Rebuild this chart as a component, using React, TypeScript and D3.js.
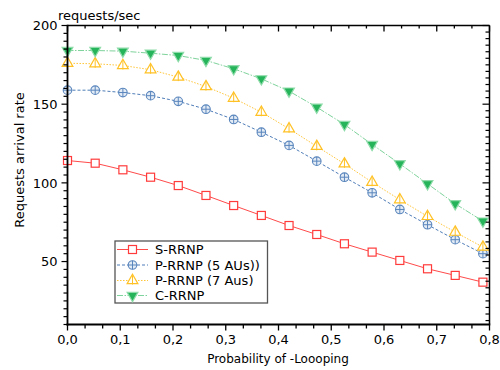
import React from "react";
import * as d3 from "d3";

const xValues = [0, 0.0525, 0.105, 0.1575, 0.21, 0.2625, 0.315, 0.3675, 0.42, 0.4725, 0.525, 0.5775, 0.63, 0.6825, 0.735, 0.7875];
const sRRNP = [114.2, 112.5, 108.3, 103.6, 98.3, 92.0, 85.6, 79.3, 72.9, 67.2, 61.3, 56.0, 50.7, 45.4, 41.2, 36.9];
const pRRNP5 = [158.9, 158.9, 157.4, 155.4, 151.8, 146.8, 140.3, 132.2, 123.8, 113.8, 103.6, 93.7, 83.1, 73.4, 63.9, 55.0];
const pRRNP7 = [176.0, 175.7, 174.6, 171.9, 167.2, 161.2, 153.8, 144.9, 134.4, 123.2, 112.1, 100.4, 89.3, 78.7, 68.7, 59.2];
const cRRNP = [184.1, 184.1, 183.7, 182.4, 180.9, 177.8, 172.5, 166.1, 158.3, 148.1, 137.1, 124.4, 112.1, 99.4, 86.7, 75.7];
const seriesNames = ["S-RRNP", "P-RRNP (5 AUs))", "P-RRNP (7 Aus)", "C-RRNP"];
const xTickValues = [0, 0.1, 0.2, 0.3, 0.4, 0.5, 0.6, 0.7, 0.8];
const yTickValues = [50, 100, 150, 200];

const FONT = "DejaVu Sans, Verdana, sans-serif";
const L = 67.5, R = 489.5, T = 25.5, B = 324.5;

type Style = { color: string; dash: string; marker: string; lineColor: string };
const styles: Style[] = [
  { color: "#ff3b3b", lineColor: "#ff4a4a", dash: "", marker: "square" },
  { color: "#5a86bd", lineColor: "#4f7db8", dash: "3,2", marker: "circlecross" },
  { color: "#ffc125", lineColor: "#ffc63a", dash: "1.5,1.5", marker: "triup" },
  { color: "#26b45a", lineColor: "#7fd39c", dash: "6,1.5,1.5,1.5", marker: "tridown" },
];

function Marker({ kind, x, y, st }: { kind: string; x: number; y: number; st: Style }) {
  if (kind === "square") {
    return <rect x={x - 4} y={y - 4} width={8} height={8} fill="#fff" stroke={st.color} strokeWidth={1.2} />;
  }
  if (kind === "circlecross") {
    return (
      <g>
        <circle cx={x} cy={y} r={4.3} fill="#e3ebf5" stroke={st.color} strokeWidth={1.1} />
        <line x1={x - 4.3} x2={x + 4.3} y1={y} y2={y} stroke={st.color} strokeWidth={1} />
        <line x1={x} x2={x} y1={y - 4.3} y2={y + 4.3} stroke={st.color} strokeWidth={1} />
      </g>
    );
  }
  if (kind === "triup") {
    const p = d3.symbol().type(d3.symbolTriangle).size(50)() as string;
    return (
      <g transform={`translate(${x},${y})`}>
        <path d={p} fill="#fff" stroke={st.color} strokeWidth={1.2} />
        <line x1={0} x2={0} y1={-5} y2={4} stroke={st.color} strokeWidth={1} />
      </g>
    );
  }
  const p = d3.symbol().type(d3.symbolTriangle).size(50)() as string;
  return (
    <g transform={`translate(${x},${y}) rotate(180)`}>
      <path d={p} fill={st.color} stroke="#8fdcaa" strokeWidth={1.2} />
    </g>
  );
}

export default function App() {
  const x = d3.scaleLinear().domain([0, 0.8]).range([L, R]);
  const y = d3.scaleLinear().domain([10, 200]).range([B, T]);
  const all = [sRRNP, pRRNP5, pRRNP7, cRRNP];
  const line = d3
    .line<number>()
    .x((_, i) => x(xValues[i]))
    .y((d) => y(d));

  const xMinor = d3.range(0, 0.8001, 0.1 / 3);
  const yMinorLeft = d3.range(10, 200.001, 5);
  const yMinorRight = d3.range(200, 9.99, -50 / 12);
  const fmt = (v: number) => v.toFixed(1).replace(".", ",");

  const legX = 115, legY = 241, legW = 152.5, legH = 62;
  const legRows = [249.5, 265, 280.5, 295.5];

  return (
    <svg width={500} height={370} style={{ position: "absolute", left: 0, top: 0, background: "#fff" }} fontFamily={FONT}>
      <rect x={0} y={0} width={500} height={370} fill="#fff" />
      {/* series lines */}
      {all.map((s, i) => (
        <path key={"l" + i} d={line(s) as string} fill="none" stroke={styles[i].lineColor} strokeWidth={1} strokeDasharray={styles[i].dash || undefined} />
      ))}
      {all.map((s, i) => (
        <g key={"m" + i}>
          {s.map((v, j) => (
            <Marker key={j} kind={styles[i].marker} x={x(xValues[j])} y={y(v)} st={styles[i]} />
          ))}
        </g>
      ))}
      {/* frame */}
      <line x1={L} x2={R} y1={T} y2={T} stroke="#000" strokeWidth={1.5} />
      <line x1={R} x2={R} y1={T} y2={B} stroke="#000" strokeWidth={1.5} />
      <line x1={L} x2={L} y1={T - 0.75} y2={B + 1} stroke="#000" strokeWidth={1.8} />
      <line x1={L - 1} x2={R + 0.75} y1={B} y2={B} stroke="#000" strokeWidth={2} />
      {/* x ticks */}
      {xMinor.map((v, i) => {
        const major = i % 3 === 0;
        return (
          <g key={"xt" + i}>
            <line x1={x(v)} x2={x(v)} y1={B} y2={B + (major ? 6 : 4)} stroke="#000" strokeWidth={1.3} />
            <line x1={x(v)} x2={x(v)} y1={T} y2={T + (major ? 6 : 3)} stroke="#000" strokeWidth={1.3} />
          </g>
        );
      })}
      {xTickValues.map((v) => (
        <text key={"xl" + v} x={x(v)} y={344} textAnchor="middle" fontSize={13} fill="#000">
          {fmt(v)}
        </text>
      ))}
      {/* y ticks */}
      {yMinorLeft.map((v) => {
        const major = v % 50 === 0;
        return <line key={"yl" + v} x1={L - (major ? 6 : 4)} x2={L} y1={y(v)} y2={y(v)} stroke="#000" strokeWidth={1.2} />;
      })}
      {yMinorRight.map((v, i) => {
        const major = i % 12 === 0;
        return <line key={"yr" + i} x1={R - (major ? 7 : 4)} x2={R} y1={y(v)} y2={y(v)} stroke="#000" strokeWidth={1.2} />;
      })}
      {yTickValues.map((v) => (
        <text key={"ylab" + v} x={57.5} y={y(v)} dy="0.36em" textAnchor="end" fontSize={13} fill="#000">
          {v}
        </text>
      ))}
      {/* titles */}
      <text x={58} y={19.5} fontSize={13} fill="#000">requests/sec</text>
      <text x={278} y={363} textAnchor="middle" fontSize={12} fill="#000">Probability of -Loooping</text>
      <text transform="translate(24,160) rotate(-90)" textAnchor="middle" fontSize={13} fill="#000">Requests arrival rate</text>
      {/* legend */}
      <rect x={legX} y={legY} width={legW} height={legH} fill="#fff" stroke="#555" strokeWidth={1.3} />
      {seriesNames.map((name, i) => (
        <g key={"lg" + i}>
          <line x1={117} x2={148} y1={legRows[i]} y2={legRows[i]} stroke={styles[i].lineColor} strokeWidth={1} strokeDasharray={styles[i].dash || undefined} />
          <Marker kind={styles[i].marker} x={132.5} y={legRows[i]} st={styles[i]} />
          <text x={155} y={legRows[i]} dy="0.36em" fontSize={13} fill="#000">
            {name}
          </text>
        </g>
      ))}
    </svg>
  );
}
